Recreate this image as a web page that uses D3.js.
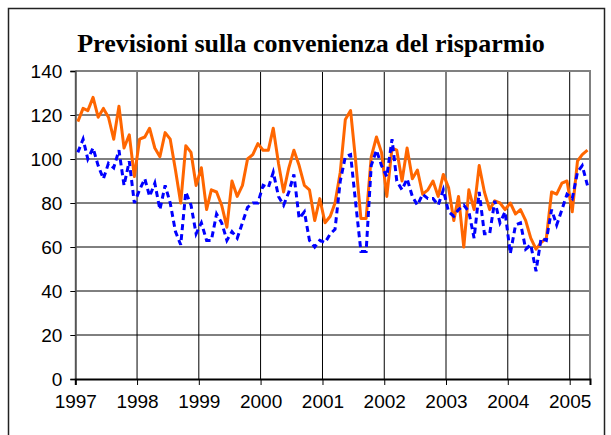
<!DOCTYPE html>
<html>
<head>
<meta charset="utf-8">
<script src="https://cdn.jsdelivr.net/npm/d3@7"></script>
<style>
  body { margin: 0; background: #fff; }
  text { font-family: "Liberation Sans", Arial, sans-serif; }
</style>
</head>
<body>
<svg id="chart"></svg>
<script>
const width = 611;
const height = 435;

// monthly values, Jan 1997 - Apr 2005
const startYear = 1997;
const orangeValues = [
  117,123,122,128,119,123,119,109,124,105,111,92,
  109,110,114,105,101,112,109,95,80,106,103,88,
  96,77,86,85,79,69,90,83,88,100,102,107,
  104,104,114,98,85,96,104,97,88,86,72,82,
  71,74,80,94,118,122,99,73,73,101,110,103,
  83,105,104,90,105,91,95,84,86,90,83,93,
  87,72,83,60,86,77,97,85,77,81,80,77,
  80,75,77,72,64,59,62,64,85,84,89,90,
  76,99,102,104
];
const blueValues = [
  103,109,100,105,97,91,98,96,104,88,99,80,
  86,91,83,89,77,88,80,67,61,85,79,66,
  71,63,63,75,71,63,67,64,71,78,80,80,
  88,87,94,83,79,85,93,73,76,63,60,63,
  62,66,68,90,101,102,80,58,58,97,104,97,
  92,109,90,86,91,83,79,84,82,82,79,86,
  76,74,77,79,76,64,85,66,66,81,71,76,
  57,70,71,59,61,49,64,63,77,70,77,84,
  82,94,97,88
];
const yearTicks = [1997, 1998, 1999, 2000, 2001, 2002, 2003, 2004, 2005];
const yTicks = [0, 20, 40, 60, 80, 100, 120, 140];

const svg = d3.select("#chart")
  .attr("width", width)
  .attr("height", height);

const plot = { left: 75.3, top: 71, right: 590, bottom: 379 };

const x = d3.scaleTime()
  .domain([new Date(1997, 0, 1), new Date(2005, 4, 1)])
  .range([plot.left, plot.right]);

const y = d3.scaleLinear()
  .domain([0, 140])
  .range([plot.bottom, plot.top]);

const dateOf = i => new Date(startYear, i, 16);

// outer frame
svg.append("rect")
  .attr("x", 8.5).attr("y", 8.5)
  .attr("width", 596).attr("height", 440)
  .attr("fill", "none")
  .attr("stroke", "#222")
  .attr("stroke-width", 1.5);

// title
svg.append("text")
  .attr("x", 311)
  .attr("y", 52)
  .attr("text-anchor", "middle")
  .style("font-family", "'Liberation Serif', 'Times New Roman', serif")
  .style("font-weight", "bold")
  .style("font-size", "26px")
  .text("Previsioni sulla convenienza del risparmio");

// gridlines
svg.append("g")
  .selectAll("line")
  .data(yTicks.filter(d => d > 0 && d < 140))
  .enter().append("line")
  .attr("x1", plot.left).attr("x2", plot.right)
  .attr("y1", d => y(d)).attr("y2", d => y(d))
  .attr("stroke", "#000")
  .attr("stroke-width", 1);

svg.append("g")
  .selectAll("line")
  .data(yearTicks.slice(1))
  .enter().append("line")
  .attr("x1", d => x(new Date(d, 0, 1))).attr("x2", d => x(new Date(d, 0, 1)))
  .attr("y1", plot.top).attr("y2", plot.bottom)
  .attr("stroke", "#000")
  .attr("stroke-width", 1);

// plot border (top, right)
svg.append("path")
  .attr("d", `M${plot.left},${plot.top}H${plot.right}V${plot.bottom}`)
  .attr("fill", "none")
  .attr("stroke", "#808080")
  .attr("stroke-width", 2);

// y axis
const yAxis = svg.append("g")
  .attr("transform", `translate(${plot.left},0)`)
  .call(d3.axisLeft(y).tickValues(yTicks).tickSize(5).tickPadding(8));
yAxis.select(".domain").attr("stroke", "#555").attr("stroke-width", 2);
yAxis.selectAll("text").style("font-size", "19px").attr("fill", "#000")
  .style("font-family", "'Liberation Sans', Arial, sans-serif");

// x axis
const xAxis = svg.append("g")
  .attr("transform", `translate(0,${plot.bottom})`)
  .call(d3.axisBottom(x)
    .tickValues(yearTicks.map(d => new Date(d, 0, 1)))
    .tickFormat(d3.timeFormat("%Y"))
    .tickSize(6).tickPadding(10));
xAxis.select(".domain").attr("stroke", "#000").attr("stroke-width", 2);
xAxis.selectAll("text").style("font-size", "19px").attr("fill", "#000")
  .style("font-family", "'Liberation Sans', Arial, sans-serif");

// lines
const line = d3.line()
  .x((d, i) => x(dateOf(i)))
  .y(d => y(d));

svg.append("path")
  .datum(orangeValues)
  .attr("fill", "none")
  .attr("stroke", "#FF6600")
  .attr("stroke-width", 3)
  .attr("stroke-linejoin", "round")
  .attr("d", line);

svg.append("path")
  .datum(blueValues)
  .attr("fill", "none")
  .attr("stroke", "#0000FF")
  .attr("stroke-width", 3)
  .attr("stroke-dasharray", "6,4")
  .attr("d", line);
</script>
</body>
</html>
